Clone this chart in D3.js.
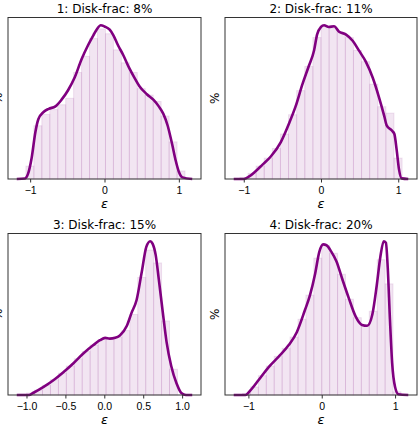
<!DOCTYPE html>
<html>
<head>
<meta charset="utf-8">
<script src="https://cdn.jsdelivr.net/npm/d3@7"></script>
<style>
  body { margin: 0; background: #fff; }
  svg { display: block; font-family: "DejaVu Sans", sans-serif; }
  .frame { fill: none; stroke: #333; stroke-width: 1; }
  .tick line { stroke: #333; }
  .tick text { font-size: 10.5px; fill: #000; }
  .title { font-size: 12px; text-anchor: middle; }
  .axis-label { font-size: 12px; text-anchor: middle; }
  .eps { font-size: 13px; font-style: italic; }
  .bar { fill: purple; fill-opacity: 0.1; stroke: purple; stroke-opacity: 0.1; stroke-width: 1; }
  .kde { fill: none; stroke: purple; stroke-width: 2.6; stroke-linejoin: round; }
</style>
</head>
<body>
<div id="chart"></div>
<script>
// panel titles
var titles = ["1: Disk-frac: 8%", "2: Disk-frac: 11%", "3: Disk-frac: 15%", "4: Disk-frac: 20%"];

// x tick values per panel
var ticks1 = [-1, 0, 1];
var ticks2 = [-1, 0, 1];
var ticks3 = [-1.0, -0.5, 0.0, 0.5, 1.0];
var ticks4 = [-1, 0, 1];

// histogram: first bin edge, bin width, bar heights (relative density)
var hist1Lo = -1.057, hist1W = 0.107;
var hist1 = [0.08, 0.33, 0.40, 0.43, 0.46, 0.50, 0.66, 0.76, 0.87, 0.93,
             0.90, 0.80, 0.72, 0.66, 0.56, 0.52, 0.48, 0.39, 0.23, 0.05];
var hist2Lo = -1.05, hist2W = 0.105;
var hist2 = [0.01, 0.035, 0.08, 0.13, 0.19, 0.28, 0.40, 0.55, 0.70, 0.88,
             0.95, 0.94, 0.91, 0.88, 0.80, 0.73, 0.59, 0.45, 0.41, 0.13];
var hist3Lo = -1.1, hist3W = 0.102;
var hist3 = [0.005, 0.012, 0.03, 0.06, 0.095, 0.135, 0.18, 0.225, 0.27, 0.31,
             0.345, 0.35, 0.36, 0.40, 0.50, 0.73, 0.90, 0.82, 0.46, 0.16];
var hist4Lo = -1.08, hist4W = 0.108;
var hist4 = [0.01, 0.05, 0.12, 0.18, 0.24, 0.29, 0.36, 0.47, 0.62, 0.85,
             0.93, 0.88, 0.75, 0.595, 0.48, 0.43, 0.52, 0.84, 0.69, 0.02];

// kde curves
var kde1X = [-1.18, -1.07, -1.03, -0.98, -0.93, -0.89, -0.82, -0.75, -0.66, -0.58, -0.49, -0.40,
             -0.31, -0.22, -0.15, -0.10, -0.05, 0.0, 0.07, 0.12, 0.18, 0.25, 0.33, 0.40, 0.47,
             0.57, 0.66, 0.73, 0.79, 0.85, 0.91, 0.96, 1.0, 1.05, 1.18];
var kde1Y = [0, 0.003, 0.03, 0.13, 0.29, 0.37, 0.415, 0.435, 0.45, 0.49, 0.55, 0.63,
             0.74, 0.83, 0.89, 0.93, 0.953, 0.945, 0.925, 0.89, 0.83, 0.77, 0.69, 0.63, 0.575,
             0.525, 0.49, 0.45, 0.405, 0.33, 0.215, 0.11, 0.045, 0.01, 0];

var kde2X = [-1.13, -1.0, -0.93, -0.85, -0.76, -0.65, -0.52, -0.41, -0.33, -0.24, -0.16, -0.09,
             -0.05, 0.0, 0.04, 0.10, 0.17, 0.23, 0.32, 0.41, 0.49, 0.58, 0.67, 0.75, 0.82,
             0.85, 0.92, 0.95, 0.98, 1.01, 1.045, 1.13];
var kde2Y = [0, 0.0, 0.016, 0.047, 0.088, 0.14, 0.23, 0.35, 0.45, 0.59, 0.70, 0.80,
             0.90, 0.946, 0.957, 0.946, 0.95, 0.918, 0.90, 0.86, 0.80, 0.73, 0.63, 0.51, 0.39,
             0.334, 0.30, 0.28, 0.18, 0.06, 0.004, 0];

var kde3X = [-1.125, -0.97, -0.91, -0.78, -0.65, -0.53, -0.40, -0.27, -0.14, -0.056, 0.01, 0.07,
             0.14, 0.2, 0.29, 0.35, 0.415, 0.48, 0.54, 0.59, 0.62, 0.66, 0.70, 0.75, 0.80,
             0.86, 0.93, 0.99, 1.05, 1.13];
var kde3Y = [0, 0, 0.014, 0.05, 0.093, 0.14, 0.196, 0.258, 0.31, 0.34, 0.355, 0.35,
             0.355, 0.37, 0.43, 0.51, 0.59, 0.76, 0.92, 0.955, 0.94, 0.87, 0.72, 0.52, 0.33,
             0.18, 0.07, 0.012, 0, 0];

var kde4X = [-1.2, -1.04, -0.97, -0.86, -0.72, -0.59, -0.45, -0.34, -0.23, -0.16, -0.09, -0.034,
             0.02, 0.065, 0.13, 0.20, 0.28, 0.37, 0.46, 0.55, 0.62, 0.69, 0.75, 0.80, 0.845,
             0.875, 0.90, 0.93, 0.96, 1.0, 1.045, 1.18];
var kde4Y = [0, 0, 0.03, 0.093, 0.175, 0.237, 0.31, 0.39, 0.526, 0.62, 0.753, 0.887,
             0.935, 0.93, 0.89, 0.83, 0.72, 0.60, 0.49, 0.435, 0.43, 0.50, 0.68, 0.86, 0.955,
             0.945, 0.79, 0.47, 0.2, 0.05, 0.005, 0];

var panels = [
  {title: titles[0], ticks: ticks1, fmt: d3.format("d"), lo: hist1Lo, bw: hist1W, hist: hist1, kx: kde1X, ky: kde1Y},
  {title: titles[1], ticks: ticks2, fmt: d3.format("d"), lo: hist2Lo, bw: hist2W, hist: hist2, kx: kde2X, ky: kde2Y},
  {title: titles[2], ticks: ticks3, fmt: d3.format(".1f"), lo: hist3Lo, bw: hist3W, hist: hist3, kx: kde3X, ky: kde3Y},
  {title: titles[3], ticks: ticks4, fmt: d3.format("d"), lo: hist4Lo, bw: hist4W, hist: hist4, kx: kde4X, ky: kde4Y}
];

var outerWidth = 419, outerHeight = 432;
var colX = [8, 225], colW = [193, 192];
var rowY = [17.5, 233.5], rowH = 161.5;

var svg = d3.select("#chart").append("svg")
  .attr("width", outerWidth)
  .attr("height", outerHeight);

panels.forEach(function(p, i) {
  var c = i % 2, r = Math.floor(i / 2);
  var width = colW[c], height = rowH;

  var g = svg.append("g")
    .attr("transform", "translate(" + colX[c] + "," + rowY[r] + ")");

  // matplotlib style 5% margin on the x data range
  var xExt = d3.extent(p.kx);
  var xPad = (xExt[1] - xExt[0]) * 0.05;
  var x = d3.scaleLinear().domain([xExt[0] - xPad, xExt[1] + xPad]).range([0, width]);
  var yMax = Math.max(d3.max(p.ky), d3.max(p.hist)) * 1.05;
  var y = d3.scaleLinear().domain([0, yMax]).range([height, 0]);

  // histogram bars
  g.selectAll(".bar")
    .data(p.hist)
    .join("rect")
    .attr("class", "bar")
    .attr("x", (d, k) => x(p.lo + k * p.bw))
    .attr("width", x(p.bw) - x(0))
    .attr("y", d => y(d))
    .attr("height", d => y(0) - y(d));

  // kde line
  var line = d3.line()
    .x((d, k) => x(p.kx[k]))
    .y(d => y(d))
    .curve(d3.curveMonotoneX);
  g.append("path")
    .attr("class", "kde")
    .attr("d", line(p.ky));

  // frame
  g.append("rect")
    .attr("class", "frame")
    .attr("width", width)
    .attr("height", height);

  // x axis
  var xAxis = d3.axisBottom(x)
    .tickValues(p.ticks)
    .tickSize(3.5)
    .tickPadding(4)
    .tickFormat(p.fmt);
  var ax = g.append("g")
    .attr("transform", "translate(0," + height + ")")
    .call(xAxis);
  ax.select(".domain").remove();
  ax.selectAll(".tick text").attr("font-family", null).attr("font-size", null);

  // labels
  g.append("text")
    .attr("class", "title")
    .attr("x", width / 2)
    .attr("y", -4.5)
    .text(p.title);

  g.append("text")
    .attr("class", "axis-label eps")
    .attr("x", width / 2)
    .attr("y", height + 28.5)
    .text("ε");

  g.append("text")
    .attr("class", "axis-label")
    .attr("transform", "translate(-6," + (height / 2) + ") rotate(-90)")
    .text("%");
});
</script>
</body>
</html>
